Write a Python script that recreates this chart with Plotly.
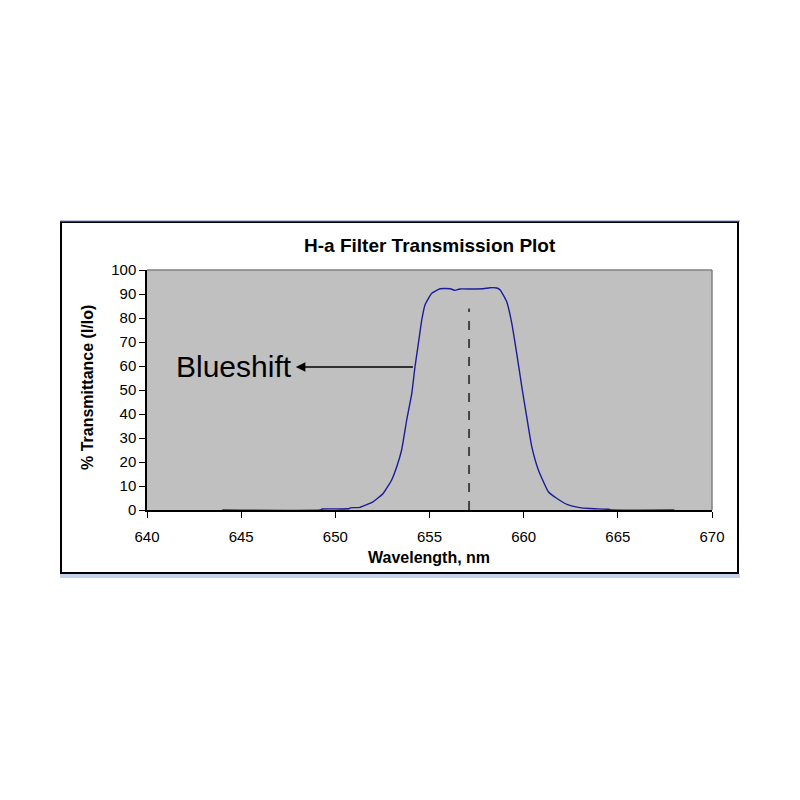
import plotly.graph_objects as go

# Data
wavelength = [644, 649.2, 649.3, 650.7, 650.8, 651.31, 652.02, 652.55, 652.99, 653.26, 653.52,
              653.79, 654.06, 654.23, 654.41, 654.59, 654.76, 655.12, 655.56, 656.1, 656.36,
              656.6, 657.2, 657.86, 658.21, 658.57, 658.75, 659.1, 659.37, 659.63, 659.9,
              660.16, 660.43, 660.78, 661.31, 661.75, 662.37, 662.9, 663.5, 664.5, 664.7, 668]
transmittance = [0, 0, 0.4, 0.5, 0.9, 1.1, 3.5, 7.0, 12.5, 18, 25,
                 37.5, 48.6, 59.7, 69.4, 79.2, 85.4, 90.3, 92.2, 92.2, 91.5,
                 92.1, 92.1, 92.2, 92.6, 92.5, 91.7, 86.8, 77.8, 65.3, 51.4,
                 38.9, 26.4, 16.7, 7.6, 4.9, 2.1, 1.1, 0.6, 0.3, 0, 0]
center_wl = 657.1
center_top = 84
arrow_y = 59.6
arrow_from = 654.2
arrow_to = 647.9
x_ticks = [640, 645, 650, 655, 660, 665, 670]
y_ticks = [0, 10, 20, 30, 40, 50, 60, 70, 80, 90, 100]

FONT = "Liberation Sans, Arial, sans-serif"

fig = go.Figure()
fig.add_trace(go.Scatter(x=wavelength, y=transmittance, mode="lines",
                         line=dict(color="#1c1c9a", width=1.4, shape="spline", smoothing=0.4),
                         showlegend=False, hoverinfo="skip"))
fig.add_trace(go.Scatter(x=[center_wl, center_wl], y=[0, center_top], mode="lines",
                         line=dict(color="#444444", width=2, dash="dash"), showlegend=False,
                         hoverinfo="skip"))

# plot area on screen: x 147..712, y 270..510 (pixels); page has 8px body offset
OFF = 8
L, R, T, B = 147, 712, 270, 510
W, H = R - L, B - T
def px(xp):
    return (xp - L) / W
def py(yp):
    return (B - yp) / H

shapes = [
    dict(type="rect", xref="paper", yref="paper", x0=px(61), x1=px(738), y0=py(573), y1=py(222),
         line=dict(color="black", width=2), fillcolor="rgba(0,0,0,0)", layer="below"),
    dict(type="rect", xref="paper", yref="paper", x0=px(60), x1=px(740), y0=py(578), y1=py(574),
         line=dict(width=0), fillcolor="#c5d2ee", layer="below"),
    dict(type="line", xref="paper", yref="paper", x0=px(60), x1=px(740), y0=py(221), y1=py(221),
         line=dict(color="#6f86c9", width=1), layer="below"),
    dict(type="line", xref="paper", yref="paper", x0=0, x1=1, y0=1, y1=1,
         line=dict(color="#808080", width=1.5)),
    dict(type="line", xref="paper", yref="paper", x0=1, x1=1, y0=0, y1=1,
         line=dict(color="#808080", width=1.5)),
]

annotations = [
    dict(x=arrow_to, y=arrow_y, ax=arrow_from, ay=arrow_y, xref="x", yref="y",
         axref="x", ayref="y", showarrow=True, arrowhead=2, arrowsize=1.2,
         arrowwidth=1.6, arrowcolor="black", text=""),
    dict(x=arrow_to - 0.1, y=arrow_y, xref="x", yref="y", text="Blueshift",
         showarrow=False, xanchor="right", yanchor="middle",
         font=dict(family=FONT, size=30, color="black")),
    dict(x=px(430), y=py(246), xref="paper", yref="paper", text="<b>H-a Filter Transmission Plot</b>",
         showarrow=False, xanchor="center", yanchor="middle",
         font=dict(family=FONT, size=19, color="black")),
    dict(x=px(429), y=py(557), xref="paper", yref="paper", text="<b>Wavelength, nm</b>",
         showarrow=False, xanchor="center", yanchor="middle",
         font=dict(family=FONT, size=16, color="black")),
    dict(x=px(87), y=py(388), xref="paper", yref="paper", text="<b>% Transmittance (I/Io)</b>",
         showarrow=False, xanchor="center", yanchor="middle", textangle=-90,
         font=dict(family=FONT, size=16, color="black")),
]

fig.update_layout(
    width=800, height=800,
    margin=dict(l=L - OFF, r=800 - R + OFF, t=T - OFF, b=800 - B + OFF),
    paper_bgcolor="white", plot_bgcolor="#c0c0c0",
    shapes=shapes, annotations=annotations,
    font=dict(family=FONT, size=15, color="black"),
    xaxis=dict(range=[640, 670], tickvals=x_ticks, ticktext=[str(v) for v in x_ticks],
               showgrid=False, zeroline=False, showline=True, linecolor="black", linewidth=1.5,
               ticks="outside", ticklen=6, tickcolor="black", tickwidth=1,
               tickfont=dict(family=FONT, size=15), ticklabelstandoff=6),
    yaxis=dict(range=[0, 100], tickvals=y_ticks, ticktext=[str(v) for v in y_ticks],
               showgrid=False, zeroline=False, showline=True, linecolor="black", linewidth=1.5,
               ticks="outside", ticklen=6, tickcolor="black", tickwidth=1,
               tickfont=dict(family=FONT, size=15)),
)

fig.write_html("out.html")
